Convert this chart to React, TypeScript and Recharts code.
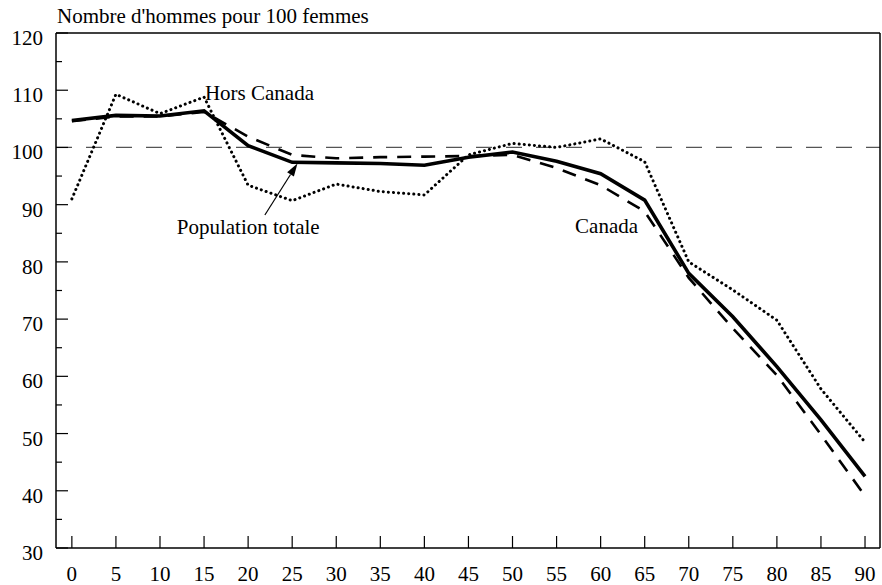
import React from 'react';
import { LineChart, Line, XAxis, YAxis, ReferenceLine, ReferenceDot } from 'recharts';

const ages = [0, 5, 10, 15, 20, 25, 30, 35, 40, 45, 50, 55, 60, 65, 70, 75, 80, 85, 90];
const populationTotale = [104.7, 105.6, 105.5, 106.4, 100.3, 97.4, 97.3, 97.2, 96.9, 98.3, 99.2, 97.6, 95.4, 90.8, 78.0, 70.4, 61.7, 52.4, 42.5];
const canada = [104.6, 105.4, 105.4, 106.2, 101.9, 98.7, 98.1, 98.3, 98.4, 98.5, 98.7, 96.4, 93.4, 88.8, 77.2, 68.4, 60.2, 49.8, 39.1];
const horsCanada = [91.0, 109.3, 105.9, 108.8, 93.4, 90.7, 93.6, 92.3, 91.7, 98.7, 100.7, 100.0, 101.5, 97.5, 80.0, 75.1, 69.8, 57.8, 48.5];

const xTicks = ages;
const yTicks = [30, 35, 40, 45, 50, 55, 60, 65, 70, 75, 80, 85, 90, 95, 100, 105, 110, 115, 120];

const title = "Nombre d'hommes pour 100 femmes";

const data = ages.map((age, i) => ({
  age,
  total: populationTotale[i],
  canada: canada[i],
  hors: horsCanada[i],
}));

const FONT = '"Liberation Serif", "Times New Roman", serif';

const LeftTick = ({ x, y, payload }: any) => {
  const major = payload.value % 10 === 0;
  return (
    <g>
      <line x1={x} y1={y} x2={x + (major ? 12 : 6)} y2={y} stroke="#000" strokeWidth={1.2} />
      {major && (
        <text x={x - 13} y={y + 12} textAnchor="end" fontSize={21} fontFamily={FONT} fill="#000">
          {payload.value}
        </text>
      )}
    </g>
  );
};

const RightTick = ({ x, y, payload }: any) => {
  const major = payload.value % 10 === 0;
  return <line x1={x} y1={y} x2={x - (major ? 10 : 5)} y2={y} stroke="#000" strokeWidth={1.2} />;
};

const BottomTick = ({ x, y, payload }: any) => (
  <g>
    <line x1={x} y1={y} x2={x} y2={y - 12} stroke="#000" strokeWidth={1.2} />
    <text x={x} y={y + 33} textAnchor="middle" fontSize={21} fontFamily={FONT} fill="#000">
      {payload.value}
    </text>
  </g>
);

const Note = ({ viewBox, text }: any) => (
  <text x={viewBox.x} y={viewBox.y} fontSize={21} fontFamily={FONT} fill="#000">
    {text}
  </text>
);

const Arrow = (props: any) => {
  const { x1, y1, x2, y2 } = props;
  const a = Math.atan2(y2 - y1, x2 - x1);
  const len = 13;
  const w = 4;
  const bx = x2 - len * Math.cos(a);
  const by = y2 - len * Math.sin(a);
  const px = -Math.sin(a) * w;
  const py = Math.cos(a) * w;
  return (
    <g>
      <line x1={x1} y1={y1} x2={bx} y2={by} stroke="#000" strokeWidth={1.2} />
      <polygon points={`${x2},${y2} ${bx + px},${by + py} ${bx - px},${by - py}`} fill="#000" />
    </g>
  );
};

export default function App() {
  return (
    <div style={{ position: 'absolute', left: 0, top: 0, width: 882, height: 585, background: '#fff' }}>
      <div
        style={{
          position: 'absolute',
          left: 57,
          top: 4,
          fontSize: 21,
          fontFamily: FONT,
          color: '#000',
          whiteSpace: 'nowrap',
        }}
      >
        {title}
      </div>
      <LineChart width={882} height={585} data={data} margin={{ top: 33, right: 0, bottom: 0, left: 0 }}>
        <XAxis
          dataKey="age"
          type="number"
          domain={[-1.8, 91.7]}
          ticks={xTicks}
          height={37}
          tickSize={0}
          tickMargin={0}
          tickLine={false}
          tick={<BottomTick />}
          axisLine={{ stroke: '#000', strokeWidth: 1.5 }}
          interval={0}
        />
        <YAxis
          yAxisId="l"
          domain={[30, 120]}
          ticks={yTicks}
          width={56}
          tickSize={0}
          tickMargin={0}
          tickLine={false}
          tick={<LeftTick />}
          axisLine={{ stroke: '#000', strokeWidth: 1.5 }}
          interval={0}
        />
        <YAxis
          yAxisId="r"
          orientation="right"
          domain={[30, 120]}
          ticks={yTicks}
          width={2}
          tickSize={0}
          tickMargin={0}
          tickLine={false}
          tick={<RightTick />}
          axisLine={{ stroke: '#000', strokeWidth: 1.5 }}
          interval={0}
        />
        <ReferenceLine yAxisId="l" y={120} stroke="#000" strokeWidth={1.5} />
        <ReferenceLine yAxisId="l" y={100} stroke="#555" strokeWidth={1.2} strokeDasharray="16 14" />
        <Line
          yAxisId="l"
          dataKey="hors"
          stroke="#000"
          strokeWidth={3}
          strokeDasharray="0.1 5"
          strokeLinecap="round"
          dot={false}
          isAnimationActive={false}
        />
        <Line
          yAxisId="l"
          dataKey="canada"
          stroke="#000"
          strokeWidth={2.6}
          strokeDasharray="14 10"
          dot={false}
          isAnimationActive={false}
        />
        <Line
          yAxisId="l"
          dataKey="total"
          stroke="#000"
          strokeWidth={3.6}
          dot={false}
          isAnimationActive={false}
        />
        <ReferenceLine
          yAxisId="l"
          segment={[
            { x: 21.9, y: 88.2 },
            { x: 25.6, y: 97.2 },
          ]}
          shape={<Arrow />}
        />
        <ReferenceDot yAxisId="l" x={15.1} y={108.3} r={0} fill="none" stroke="none" label={<Note text="Hors Canada" />} />
        <ReferenceDot yAxisId="l" x={11.9} y={84.9} r={0} fill="none" stroke="none" label={<Note text="Population totale" />} />
        <ReferenceDot yAxisId="l" x={57.1} y={85.0} r={0} fill="none" stroke="none" label={<Note text="Canada" />} />
      </LineChart>
    </div>
  );
}
